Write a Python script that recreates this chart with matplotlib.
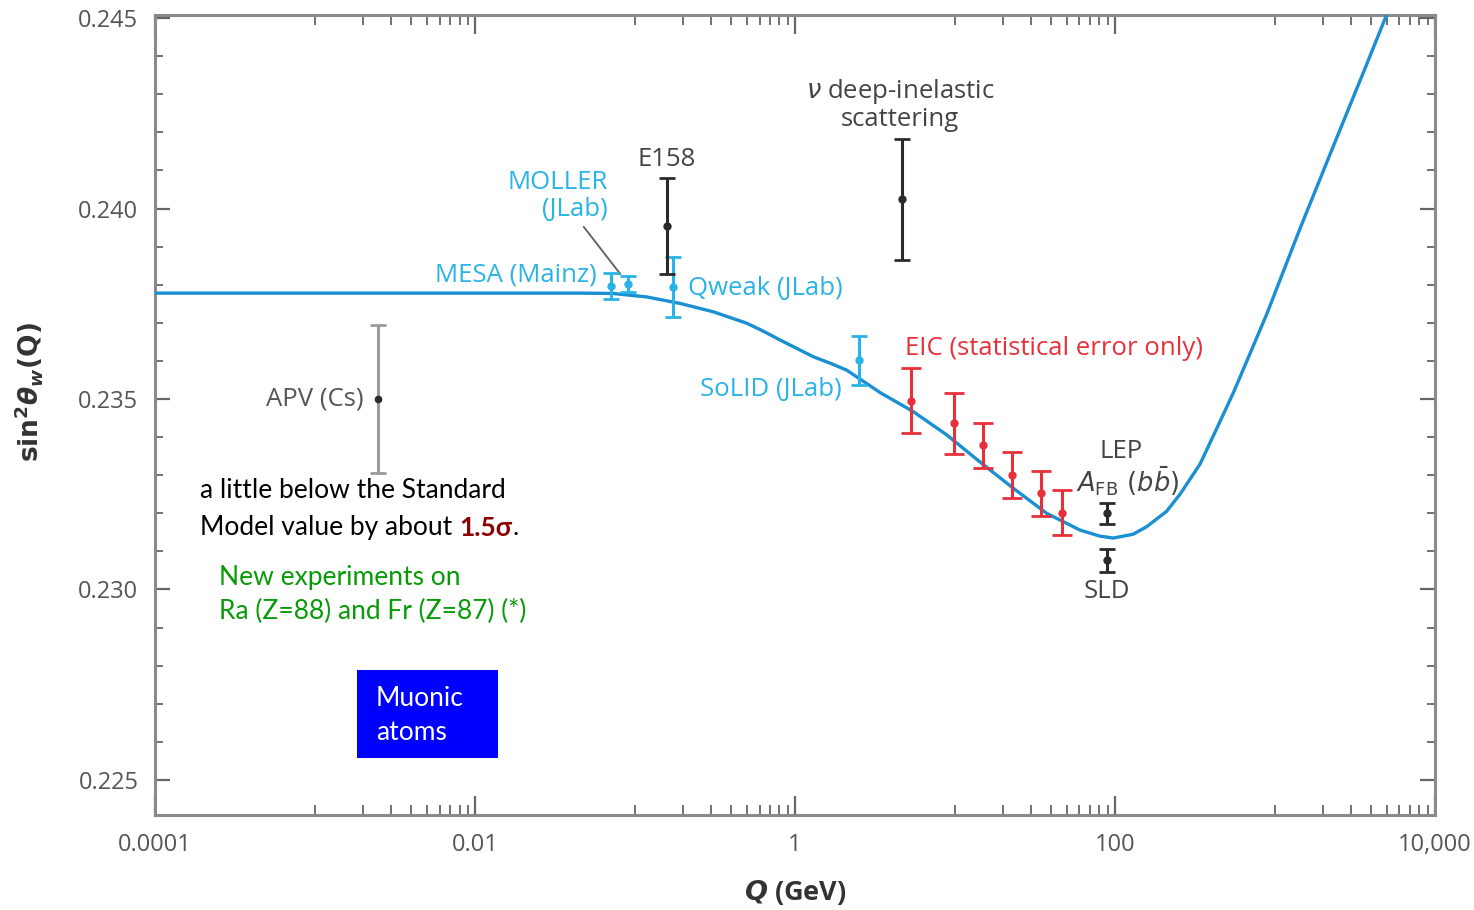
import numpy as np
import matplotlib
matplotlib.use("Agg")
from matplotlib import pyplot as plt
from matplotlib.patches import Rectangle
from matplotlib.ticker import FixedLocator, FixedFormatter, MultipleLocator

plt.rcParams['font.family'] = ['Open Sans', 'DejaVu Sans']
plt.rcParams['mathtext.fontset'] = 'dejavusans'

# ==============================
# ============ data ============
# ==============================

# running of sin^2 theta_W
curve_q = [1e-4, 1e-3, 0.01, 0.0453, 0.0731, 0.118, 0.191, 0.308, 0.499, 0.634,
           0.806, 1.024, 1.30, 1.66, 2.10, 3.40, 5.48, 8.87, 14.3, 23.1,
           37.4, 60.4, 80.5, 97.6, 130, 158, 210, 255, 340, 432,
           549, 887, 1433, 2313, 3740, 4980, 6000]
curve_s = [0.23778, 0.23778, 0.23778, 0.23778, 0.23777, 0.23768, 0.23751, 0.23729, 0.23699, 0.23678,
           0.23655, 0.23633, 0.23611, 0.23594, 0.23576, 0.23517, 0.23467, 0.23406, 0.23335, 0.23266,
           0.23200, 0.23156, 0.23140, 0.23135, 0.23145, 0.23165, 0.23205, 0.23250, 0.23329, 0.23422,
           0.23516, 0.23722, 0.23947, 0.24163, 0.24378, 0.24508, 0.24590]

# measurements / projections: Q, value, error
apv    = (0.00248, 0.23500, 0.00195)
mesa   = (0.0708,  0.23797, 0.00034)
moller = (0.0904,  0.23802, 0.00021)
e158   = (0.158,   0.23954, 0.00126)
qweak  = (0.173,   0.23794, 0.00078)
solid  = (2.51,    0.23602, 0.00064)
nudis  = (4.67,    0.24024, 0.00159)
lep    = (88.7,    0.23200, 0.00027)
sld    = (88.7,    0.23077, 0.00030)

eic_q   = [5.28, 9.86, 14.9, 22.8, 34.5, 46.7]
eic_s   = [0.23496, 0.23436, 0.23378, 0.23300, 0.23252, 0.23202]
eic_err = [0.00085, 0.00080, 0.00060, 0.00060, 0.00060, 0.00060]

x_ticks  = [1e-4, 1e-2, 1, 1e2, 1e4]
x_labels = ["0.0001", "0.01", "1", "100", "10,000"]
y_ticks  = [0.225, 0.230, 0.235, 0.240, 0.245]

# ==============================
# ============ style ===========
# ==============================
c_curve = "#1a8fd2"
c_cyan  = "#2ab3e6"
c_black = "#2a2a2a"
c_red   = "#e8303a"
c_gray  = "#9a9a9a"
c_text  = "#444444"
fs_lab  = 18.5
fs_slide = 19

fig = plt.figure(figsize=(14.74, 9.10), dpi=100)
ax = fig.add_axes([0.1052, 0.1044, 0.8683, 0.8791])

ax.set_xscale("log")
ax.set_xlim(1e-4, 1e4)
ax.set_ylim(0.22408, 0.24508)

ax.plot(curve_q, curve_s, color=c_curve, lw=2.4, zorder=3, solid_joinstyle="round")

def point(d, col, ecol=None, ms=5):
    q, s, e = d
    pl, caps, bars = ax.errorbar([q], [s], yerr=[e], fmt="o", ms=ms, color=col,
                                 ecolor=ecol or col, elinewidth=2.2, capsize=6,
                                 capthick=2.0, zorder=4)
    return caps

caps = point(apv, c_black, c_gray, ms=4.5)
for c in caps:
    c.set_color("#555555")
point(mesa, c_cyan)
point(moller, c_cyan)
point(qweak, c_cyan)
point(solid, c_cyan)
point(e158, c_black)
point(nudis, c_black)
point(lep, c_black)
point(sld, c_black)
ax.errorbar(eic_q, eic_s, yerr=eic_err, fmt="o", ms=5, color=c_red, elinewidth=2.2,
            capsize=7, capthick=2.0, zorder=4)

# ---- labels ----
def lab(d, txt, dx, dy, col, ha="center", **kw):
    ax.annotate(txt, xy=(d[0], d[1]), xytext=(dx, dy), textcoords="offset pixels",
                ha=ha, va="center", color=col, fontsize=fs_lab, **kw)

lab(apv, "APV (Cs)", -15, 0, "#555555", ha="right")
lab(mesa, "MESA (Mainz)", -14, 11, c_cyan, ha="right")
ax.annotate("MOLLER\n(JLab)", xy=(moller[0], moller[1]), xytext=(-20, 88),
            textcoords="offset pixels", ha="right", va="center", multialignment="right",
            color=c_cyan, fontsize=fs_lab, linespacing=1.1,
            arrowprops=dict(arrowstyle="-", color="#666666", lw=1.4,
                            relpos=(0.72, 0.0), shrinkA=2, shrinkB=9))
lab(e158, "E158", 0, 67, c_text)
lab(qweak, "Qweak (JLab)", 15, -1, c_cyan, ha="left")
lab(solid, "SoLID (JLab)", -17, -29, c_cyan, ha="right")
ax.annotate("$\\mathit{\\nu}$ deep-inelastic\nscattering", xy=(nudis[0], nudis[1]),
            xytext=(-2, 95), textcoords="offset pixels", ha="center", va="center",
            color=c_text, fontsize=fs_lab, linespacing=1.05)
ax.annotate("EIC (statistical error only)", xy=(eic_q[0], eic_s[0]), xytext=(-6, 52),
            textcoords="offset pixels", ha="left", va="center", color=c_red, fontsize=fs_lab)
lab(lep, "LEP", 14, 62, c_text)
lab(lep, "$A_{\\mathrm{FB}}\\ (b\\bar{b})$", -31, 32, c_text, ha="left")
lab(sld, "SLD", 0, -31, c_text)

# ---- axes ----
ax.set_xticks(x_ticks)
ax.set_xticklabels(x_labels)
minor_x = [k * 10.0 ** e for e in (-3, -1, 1, 3) for k in range(1, 10)]
ax.xaxis.set_minor_locator(FixedLocator(minor_x))
ax.xaxis.set_minor_formatter(FixedFormatter([""] * len(minor_x)))
ax.set_yticks(y_ticks)
ax.set_yticklabels(["%.3f" % v for v in y_ticks])
ax.yaxis.set_minor_locator(MultipleLocator(0.001))

ax.tick_params(which="both", direction="in", top=True, right=True, color="#666666",
               labelcolor="#555555", labelsize=17)
ax.tick_params(axis="x", which="major", length=14, width=1.6, pad=13)
ax.tick_params(axis="x", which="minor", length=7, width=1.3)
ax.tick_params(axis="y", which="major", length=11, width=1.6, pad=12)
ax.tick_params(axis="y", which="minor", length=6, width=1.3)
for sp in ax.spines.values():
    sp.set_color("#8a8a8a")
    sp.set_linewidth(2.2)

ax.set_xlabel("$\\mathbfit{Q}$ (GeV)", fontsize=19.5, fontweight="bold", color="#333333")
ax.xaxis.set_label_coords(0.5, -0.079)
ax.set_ylabel("$\\mathbf{sin^2}\\boldsymbol{\\theta}_{\\mathbfit{w}}\\mathbf{(Q)}$",
              fontsize=19, color="#333333")
ax.yaxis.set_label_coords(-0.086, 0.529)

# ---- slide overlay text ----
slide_font = ["Lato", "DejaVu Sans"]
ax.text(0.0352, 0.406, "a little below the Standard", transform=ax.transAxes,
        fontsize=fs_slide, family=slide_font, color="black", va="center")
t1 = ax.text(0.0352, 0.36, "Model value by about ", transform=ax.transAxes,
             fontsize=fs_slide, family=slide_font, color="black", va="center")
t2 = ax.annotate("1.5σ", xy=(1, 0), xycoords=t1, va="bottom", ha="left",
                 fontsize=fs_slide, family=slide_font, fontweight="bold", color="#8b0000")
ax.annotate(".", xy=(1, 0), xycoords=t2, va="bottom", ha="left",
            fontsize=fs_slide, family=slide_font, color="black")
ax.text(0.050, 0.2975, "New experiments on", transform=ax.transAxes,
        fontsize=fs_slide, family=slide_font, color="#079b07", va="center")
ax.text(0.050, 0.254, "Ra (Z=88) and Fr (Z=87) (*)", transform=ax.transAxes,
        fontsize=fs_slide, family=slide_font, color="#079b07", va="center")

ax.add_patch(Rectangle((0.1578, 0.0713), 0.110, 0.110, transform=ax.transAxes,
                       facecolor="#0000ff", edgecolor="none", zorder=5))
ax.text(0.1727, 0.124, "Muonic\natoms", transform=ax.transAxes, fontsize=fs_slide,
        family=slide_font, color="white", va="center", ha="left", linespacing=1.45, zorder=6)

fig.savefig("out.png", dpi=100)
